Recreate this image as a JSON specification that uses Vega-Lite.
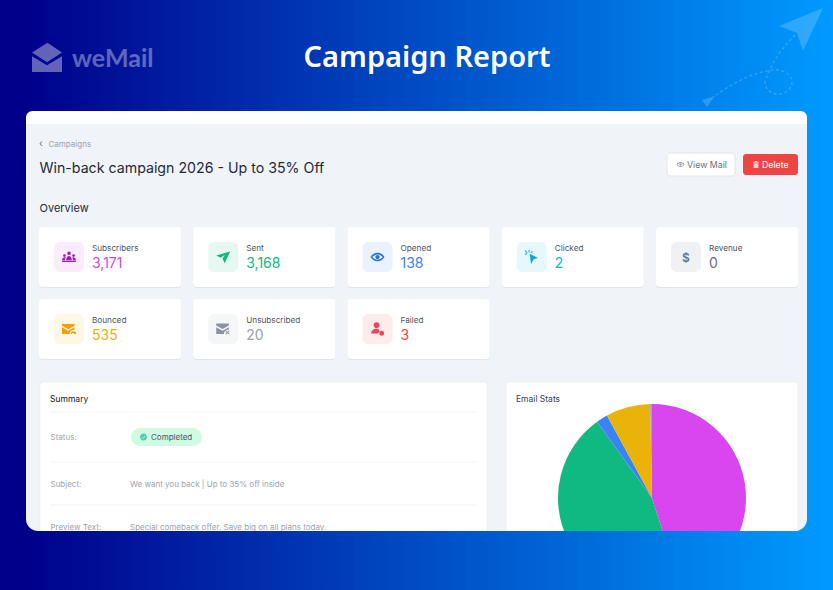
{
  "$schema": "https://vega.github.io/schema/vega-lite/v6.json",
  "width": 833,
  "height": 590,
  "padding": 0,
  "autosize": {"type": "fit", "contains": "padding"},
  "background": "#00008b",
  "config": {"view": {"stroke": null}, "font": "Inter", "text": {"font": "Inter"}},
  "datasets": {
    "page": [
      {"element": "backdrop", "column": "3", "tier": "overview"},
      {"element": "panel", "column": "3", "tier": "bottom"},
      {"element": "panelTop", "column": "3", "tier": "head"},
      {"element": "title", "text": "Campaign Report", "column": "3", "tier": "banner"},
      {"element": "brand", "text": "weMail", "column": "1", "tier": "banner"},
      {"element": "logo", "column": "1", "tier": "banner"},
      {"element": "plane", "column": "5", "tier": "banner"},
      {"element": "chevron", "text": "‹", "column": "1", "tier": "head"},
      {"element": "crumb", "text": "Campaigns", "column": "1", "tier": "head"},
      {"element": "heading", "text": "Win-back campaign 2026 - Up to 35% Off", "column": "1", "tier": "head"},
      {"element": "overview", "text": "Overview", "column": "1", "tier": "overview"},
      {"element": "viewButton", "text": "View Mail", "column": "5", "tier": "head"},
      {"element": "deleteButton", "text": "Delete", "column": "5", "tier": "head"},
      {"element": "summaryCard", "text": "Summary", "column": "2", "tier": "detail"},
      {"element": "statsCard", "text": "Email Stats", "column": "5", "tier": "detail"},
      {"element": "summaryTitle", "text": "Summary", "column": "1", "tier": "lower"},
      {"element": "statsTitle", "text": "Email Stats", "column": "4", "tier": "lower"},
      {"element": "rule1", "column": "2", "tier": "lower"},
      {"element": "rule2", "column": "2", "tier": "detail"},
      {"element": "rule3", "column": "2", "tier": "detail"},
      {"element": "statusKey", "text": "Status:", "column": "1", "tier": "lower"},
      {"element": "pill", "column": "1", "tier": "lower"},
      {"element": "pillText", "text": "Completed", "column": "1", "tier": "lower"},
      {"element": "subjectKey", "text": "Subject:", "column": "1", "tier": "detail"},
      {"element": "subjectValue", "text": "We want you back | Up to 35% off inside", "column": "1", "tier": "detail"},
      {"element": "previewKey", "text": "Preview Text:", "column": "1", "tier": "detail"},
      {"element": "previewValue", "text": "Special comeback offer. Save big on all plans today.", "column": "1", "tier": "detail"},
      {"element": "dollar", "text": "$", "column": "5", "tier": "top"},
      {"element": "strip", "column": "3", "tier": "foot"}
    ],
    "metrics": [
      {"metric": "Subscribers", "value": 3171, "rank": 1, "column": "1", "tier": "top"},
      {"metric": "Sent", "value": 3168, "rank": 2, "column": "2", "tier": "top"},
      {"metric": "Opened", "value": 138, "rank": 3, "column": "3", "tier": "top"},
      {"metric": "Clicked", "value": 2, "rank": 4, "column": "4", "tier": "top"},
      {"metric": "Revenue", "value": 0, "rank": 5, "column": "5", "tier": "top"},
      {"metric": "Bounced", "value": 535, "rank": 6, "column": "1", "tier": "bottom"},
      {"metric": "Unsubscribed", "value": 20, "rank": 7, "column": "2", "tier": "bottom"},
      {"metric": "Failed", "value": 3, "rank": 8, "column": "3", "tier": "bottom"}
    ]
  },
  "data": {"name": "page"},
  "encoding": {
    "x": {
      "field": "column",
      "type": "nominal",
      "axis": null,
      "scale": {"type": "point", "domain": ["1", "2", "3", "4", "5"], "range": [110, 727], "padding": 0}
    },
    "y": {
      "field": "tier",
      "type": "nominal",
      "axis": null,
      "scale": {
        "type": "point",
        "domain": ["banner", "head", "overview", "top", "bottom", "lower", "detail", "foot"],
        "range": [41, 545],
        "padding": 0
      }
    }
  },
  "layer": [
    {
      "transform": [{"filter": "datum.element === 'backdrop'"}],
      "mark": {"type": "rect", "width": 833, "height": 590, "xOffset": -2, "yOffset": 110,
        "fill": {"gradient": "linear", "x1": 0, "x2": 1, "y1": 0, "y2": 0, "stops": [{"offset": 0.03, "color": "#00008b"}, {"offset": 1, "color": "#009bff"}]}}
    },
    {
      "transform": [{"filter": "datum.element === 'logo'"}],
      "mark": {"type": "point", "filled": true, "size": 900, "xOffset": -63, "yOffset": 16, "fill": "#ffffff", "opacity": 0.38, "strokeWidth": 0,
        "shape": "M-1 -.3L.03 -.95L1 -.3L0 .35Z M-1 -.05L0 .55L1 -.05V1H-1Z"}
    },
    {
      "transform": [{"filter": "datum.element === 'brand'"}],
      "mark": {"type": "text", "font": "Lato", "fontWeight": 700, "fontSize": 25, "align": "left", "dx": -38, "dy": 17.5, "fill": "#ffffff", "opacity": 0.36},
      "encoding": {"text": {"field": "text"}}
    },
    {
      "transform": [{"filter": "datum.element === 'title'"}],
      "mark": {"type": "text", "font": "Noto Sans", "fontWeight": 600, "fontSize": 29, "align": "center", "dx": 8.5, "dy": 17, "fill": "#ffffff"},
      "encoding": {"text": {"field": "text"}}
    },
    {
      "transform": [{"filter": "datum.element === 'plane'"}],
      "mark": {"type": "point", "filled": true, "size": 14400, "xOffset": 33, "yOffset": 19, "fill": "#ffffff", "opacity": 0.18, "strokeWidth": 0,
        "shape": "M1.05 -.867L.317 -.567L.617 -.45L.717 -.15Z M-.967 .667L-.75 .6L-.883 .783Z"}
    },
    {
      "transform": [{"filter": "datum.element === 'plane'"}],
      "mark": {"type": "point", "filled": false, "size": 14400, "xOffset": 33, "yOffset": 19, "stroke": "#ffffff", "opacity": 0.2, "strokeWidth": 1.3, "strokeDash": [3, 2.5],
        "shape": "M.583 -.417C.417 -.25 .2 0 .083 .367C.083 .5 .2 .567 .3 .567C.45 .567 .533 .467 .533 .367C.533 .25 .417 .167 .283 .167C-.083 .167 -.5 .417 -.783 .617"}
    },
    {
      "transform": [{"filter": "datum.element === 'panel'"}],
      "mark": {"type": "rect", "width": 781, "height": 420, "xOffset": -2, "yOffset": -8, "cornerRadius": 12, "fill": "#f0f3f8"}
    },
    {
      "transform": [{"filter": "datum.element === 'panelTop'"}],
      "mark": {"type": "rect", "width": 781, "height": 13, "xOffset": -2, "yOffset": 4.5, "cornerRadiusTopLeft": 12, "cornerRadiusTopRight": 12, "fill": "#ffffff"}
    },
    {
      "transform": [{"filter": "datum.element === 'chevron'"}],
      "mark": {"type": "text", "fontSize": 10, "align": "left", "dx": -71, "dy": 31, "fill": "#6b7280"},
      "encoding": {"text": {"field": "text"}}
    },
    {
      "transform": [{"filter": "datum.element === 'crumb'"}],
      "mark": {"type": "text", "fontSize": 8, "align": "left", "dx": -61.5, "dy": 32, "fill": "#9ca3af"},
      "encoding": {"text": {"field": "text"}}
    },
    {
      "transform": [{"filter": "datum.element === 'heading'"}],
      "mark": {"type": "text", "fontSize": 14.2, "align": "left", "dx": -70.5, "dy": 55.5, "fill": "#1f2937"},
      "encoding": {"text": {"field": "text"}}
    },
    {
      "transform": [{"filter": "datum.element === 'overview'"}],
      "mark": {"type": "text", "fontSize": 11, "align": "left", "dx": -70.5, "dy": 24, "fill": "#1f2937"},
      "encoding": {"text": {"field": "text"}}
    },
    {
      "transform": [{"filter": "datum.element === 'viewButton'"}],
      "mark": {"type": "rect", "width": 68, "height": 23, "xOffset": -26, "yOffset": 51.5, "cornerRadius": 3, "fill": "#ffffff", "stroke": "#e2e5ea", "strokeWidth": 1}
    },
    {
      "transform": [{"filter": "datum.element === 'viewButton'"}],
      "mark": {"type": "point", "filled": true, "size": 64, "xOffset": -46.5, "yOffset": 51.5, "fill": "#6b7280", "strokeWidth": 0,
        "shape": "M-1 0C-.5 -.8 .5 -.8 1 0C.5 .8 -.5 .8 -1 0Z M-.75 0C-.35 .5 .35 .5 .75 0C.35 -.5 -.35 -.5 -.75 0Z M-.3 0a.3 .3 0 1 0 .6 0a.3 .3 0 1 0 -.6 0Z"}
    },
    {
      "transform": [{"filter": "datum.element === 'viewButton'"}],
      "mark": {"type": "text", "fontSize": 8.8, "align": "left", "dx": -40, "dy": 52, "fill": "#6b7280"},
      "encoding": {"text": {"field": "text"}}
    },
    {
      "transform": [{"filter": "datum.element === 'deleteButton'"}],
      "mark": {"type": "rect", "width": 55, "height": 21, "xOffset": 43.5, "yOffset": 51.5, "cornerRadius": 3, "fill": "#ef4444"}
    },
    {
      "transform": [{"filter": "datum.element === 'deleteButton'"}],
      "mark": {"type": "point", "filled": true, "size": 49, "xOffset": 29, "yOffset": 51.5, "fill": "#ffffff", "strokeWidth": 0,
        "shape": "M-.8 -.8H-.3V-1H.3V-.8H.8V-.5H-.8Z M-.7 -.35H.7V1H-.7Z"}
    },
    {
      "transform": [{"filter": "datum.element === 'deleteButton'"}],
      "mark": {"type": "text", "fontSize": 8.8, "align": "left", "dx": 35, "dy": 52, "fill": "#ffffff"},
      "encoding": {"text": {"field": "text"}}
    },
    {
      "data": {"name": "metrics"},
      "mark": {"type": "rect", "width": 142, "height": 60, "yOffset": 1, "cornerRadius": 3, "fill": "#d9dee7", "opacity": 0.7}
    },
    {
      "data": {"name": "metrics"},
      "mark": {"type": "rect", "width": 142, "height": 60, "cornerRadius": 3, "fill": "#ffffff"}
    },
    {
      "data": {"name": "metrics"},
      "mark": {"type": "rect", "width": 30, "height": 30, "xOffset": -41, "cornerRadius": 6, "opacity": 0.1},
      "encoding": {
        "color": {
          "field": "metric",
          "type": "nominal",
          "legend": null,
          "scale": {
            "domain": ["Subscribers", "Sent", "Opened", "Clicked", "Revenue", "Bounced", "Unsubscribed", "Failed"],
            "range": ["#d946ef", "#10b981", "#3b82f6", "#06b6d4", "#64748b", "#eab308", "#9ca3af", "#ef4444"]
          }
        }
      }
    },
    {
      "data": {"name": "metrics"},
      "mark": {"type": "point", "filled": true, "size": 196, "xOffset": -41, "strokeWidth": 0, "opacity": 1},
      "encoding": {
        "fill": {
          "field": "metric",
          "type": "nominal",
          "legend": null,
          "scale": {
            "domain": ["Subscribers", "Sent", "Opened", "Clicked", "Revenue", "Bounced", "Unsubscribed", "Failed"],
            "range": ["#a21caf", "#10b981", "#1d6fe8", "#06a8cc", "#64748b", "#f59e0b", "#8b93a1", "#f43f5e"]
          }
        },
        "shape": {
          "field": "metric",
          "type": "nominal",
          "legend": null,
          "scale": {
            "domain": ["Subscribers", "Sent", "Opened", "Clicked", "Revenue", "Bounced", "Unsubscribed", "Failed"],
            "range": [
              "M-.25 -.55a.25 .25 0 1 0 .5 0a.25 .25 0 1 0 -.5 0Z M-.85 -.2a.2 .2 0 1 0 .4 0a.2 .2 0 1 0 -.4 0Z M.45 -.2a.2 .2 0 1 0 .4 0a.2 .2 0 1 0 -.4 0Z M-.4 .45C-.4 -.35 .4 -.35 .4 .45Z M-1 .45C-1 .1 -.6 -.05 -.45 .1C-.55 .2 -.55 .3 -.55 .45Z M1 .45C1 .1 .6 -.05 .45 .1C.55 .2 .55 .3 .55 .45Z M-1 .55H1V.7H-1Z",
              "M1 -.8L-1 -.2L-.35 .1L.2 -.3L-.1 .25L.2 .9Z",
              "M-1 0C-.5 -.8 .5 -.8 1 0C.5 .8 -.5 .8 -1 0Z M-.75 0C-.35 .5 .35 .5 .75 0C.35 -.5 -.35 -.5 -.75 0Z M-.3 0a.3 .3 0 1 0 .6 0a.3 .3 0 1 0 -.6 0Z",
              "M-.3 -.45L.9 .15L.3 .3L-.1 1Z M-.45 -1h.14v.35h-.14Z M-1 -.5h.35v.14h-.35Z M-.9 -.95L-.6 -.65L-.7 -.55L-1 -.85Z M.05 -.85L.15 -.75L-.08 -.55L-.18 -.65Z",
              "M0 0Z",
              "M-1 -.7H.8V-.45L-.1 .05L-1 -.45Z M-1 -.25L-.1 .25L.8 -.25V.1C.3 .1 .1 .4 .1 .7H-1Z M.25 .7a.4 .4 0 0 1 .7 -.25l.05 -.1v.35h-.35l.12 -.1a.25 .25 0 0 0 -.37 .1Z",
              "M-1 -.8H.8V-.5L-.1 0L-1 -.5Z M-1 -.25L-.1 .25L.8 -.25V.1C.3 .1 .1 .4 .1 .7H-1Z M.3 .3L.4 .2L.6 .4L.8 .2L.9 .3L.7 .5L.9 .7L.8 .8L.6 .6L.4 .8L.3 .7L.5 .5Z",
              "M-.55 -.55a.42 .42 0 1 0 .84 0a.42 .42 0 1 0 -.84 0Z M-.9 .65C-.9 -.2 .3 -.2 .3 .3L.1 .65Z M.25 .6a.35 .35 0 1 0 .7 0a.35 .35 0 1 0 -.7 0Z"
            ]
          }
        }
      }
    },
    {
      "transform": [{"filter": "datum.element === 'dollar'"}],
      "mark": {"type": "text", "fontSize": 12, "fontWeight": 600, "align": "center", "dx": -41, "dy": 0.5, "fill": "#64748b"},
      "encoding": {"text": {"field": "text"}}
    },
    {
      "data": {"name": "metrics"},
      "mark": {"type": "text", "fontSize": 8.2, "align": "left", "dx": -18, "dy": -8, "fill": "#4b5563"},
      "encoding": {"text": {"field": "metric"}}
    },
    {
      "data": {"name": "metrics"},
      "mark": {"type": "text", "fontSize": 14, "align": "left", "dx": -18, "dy": 7},
      "encoding": {
        "text": {"field": "value", "type": "quantitative", "format": ",d"},
        "color": {"field": "metric", "type": "nominal"}
      }
    },
    {
      "transform": [{"filter": "datum.element === 'summaryCard'"}],
      "mark": {"type": "rect", "width": 447, "height": 164, "xOffset": -0.75, "yOffset": -9, "cornerRadius": 3, "fill": "#ffffff", "stroke": "#e6e9ef", "strokeWidth": 0.5}
    },
    {
      "transform": [{"filter": "datum.element === 'statsCard'"}],
      "mark": {"type": "rect", "width": 292, "height": 164, "xOffset": -75, "yOffset": -9, "cornerRadius": 3, "fill": "#ffffff", "stroke": "#e6e9ef", "strokeWidth": 0.5}
    },
    {
      "transform": [{"filter": "datum.element === 'summaryTitle'"}],
      "mark": {"type": "text", "fontSize": 8.5, "align": "left", "dx": -60, "dy": -2.5, "fill": "#111827"},
      "encoding": {"text": {"field": "text"}}
    },
    {
      "transform": [{"filter": "datum.element === 'statsTitle'"}],
      "mark": {"type": "text", "fontSize": 8.5, "align": "left", "dx": -56.75, "dy": -2.5, "fill": "#374151"},
      "encoding": {"text": {"field": "text"}}
    },
    {
      "transform": [{"filter": "datum.element === 'rule1'"}],
      "mark": {"type": "rect", "width": 427, "height": 1, "xOffset": -0.75, "yOffset": 11, "fill": "#f3f4f6"}
    },
    {
      "transform": [{"filter": "datum.element === 'rule2'"}],
      "mark": {"type": "rect", "width": 427, "height": 1, "xOffset": -0.75, "yOffset": -11, "fill": "#f3f4f6"}
    },
    {
      "transform": [{"filter": "datum.element === 'rule3'"}],
      "mark": {"type": "rect", "width": 427, "height": 1, "xOffset": -0.75, "yOffset": 32, "fill": "#f3f4f6"}
    },
    {
      "transform": [{"filter": "datum.element === 'statusKey'"}],
      "mark": {"type": "text", "fontSize": 8, "align": "left", "dx": -59.5, "dy": 37, "fill": "#9ca3af"},
      "encoding": {"text": {"field": "text"}}
    },
    {
      "transform": [{"filter": "datum.element === 'pill'"}],
      "mark": {"type": "rect", "width": 71, "height": 18, "xOffset": 56.5, "yOffset": 36, "cornerRadius": 9, "fill": "#d1fae5"}
    },
    {
      "transform": [{"filter": "datum.element === 'pill'"}],
      "mark": {"type": "point", "filled": true, "size": 49, "xOffset": 33.5, "yOffset": 36, "fill": "#14b8a6", "strokeWidth": 0,
        "shape": "M-1 0a1 1 0 1 0 2 0a1 1 0 1 0 -2 0Z M-.5 -.1L-.15 .25L.5 -.35L.5 -.1L-.15 .5L-.5 .15Z"}
    },
    {
      "transform": [{"filter": "datum.element === 'pillText'"}],
      "mark": {"type": "text", "fontSize": 8, "align": "left", "dx": 41, "dy": 36.5, "fill": "#4b5563"},
      "encoding": {"text": {"field": "text"}}
    },
    {
      "transform": [{"filter": "datum.element === 'subjectKey'"}],
      "mark": {"type": "text", "fontSize": 8, "align": "left", "dx": -59.5, "dy": 12, "fill": "#9ca3af"},
      "encoding": {"text": {"field": "text"}}
    },
    {
      "transform": [{"filter": "datum.element === 'subjectValue'"}],
      "mark": {"type": "text", "fontSize": 8, "align": "left", "dx": 20, "dy": 12, "fill": "#9ca3af"},
      "encoding": {"text": {"field": "text"}}
    },
    {
      "transform": [{"filter": "datum.element === 'previewKey'"}],
      "mark": {"type": "text", "fontSize": 8, "align": "left", "dx": -59.5, "dy": 55, "fill": "#9ca3af"},
      "encoding": {"text": {"field": "text"}}
    },
    {
      "transform": [{"filter": "datum.element === 'previewValue'"}],
      "mark": {"type": "text", "fontSize": 8, "align": "left", "dx": 20, "dy": 55, "fill": "#9ca3af"},
      "encoding": {"text": {"field": "text"}}
    },
    {
      "data": {"name": "metrics"},
      "mark": {"type": "arc", "outerRadius": 94, "xOffset": -75, "yOffset": 25},
      "encoding": {
        "x": {"datum": "5", "type": "nominal"},
        "y": {"datum": "detail", "type": "nominal"},
        "theta": {"field": "value", "type": "quantitative", "stack": true},
        "order": {"field": "rank", "type": "quantitative"},
        "color": {"field": "metric", "type": "nominal"}
      }
    },
    {
      "transform": [{"filter": "datum.element === 'strip'"}],
      "mark": {"type": "rect", "width": 833, "height": 59, "xOffset": -2, "yOffset": 15.5,
        "fill": {"gradient": "linear", "x1": 0, "x2": 1, "y1": 0, "y2": 0, "stops": [{"offset": 0.03, "color": "#00008b"}, {"offset": 1, "color": "#009bff"}]}}
    }
  ]
}
